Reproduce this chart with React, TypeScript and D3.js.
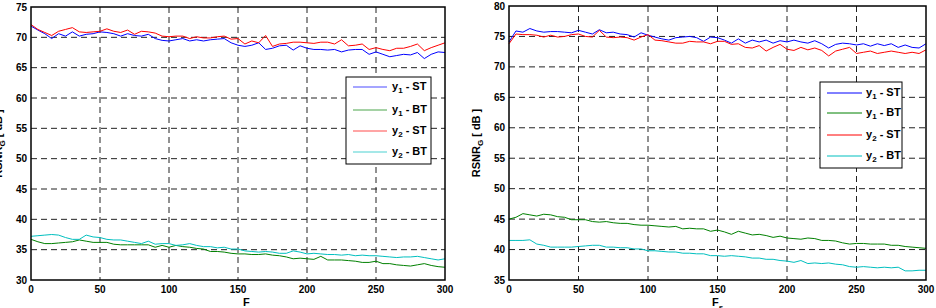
import * as d3 from "d3";
import React from "react";

// frame index (x axis), shared by every series
const F = [0, 5, 10, 15, 20, 25, 30, 35, 40, 45, 50, 55, 60, 65, 70, 75, 80, 85, 90, 95,
  100, 105, 110, 115, 120, 125, 130, 135, 140, 145, 150, 155, 160, 165, 170, 175, 180, 185, 190, 195,
  200, 205, 210, 215, 220, 225, 230, 235, 240, 245, 250, 255, 260, 265, 270, 275, 280, 285, 290, 295, 300];

const xTicks = [0, 50, 100, 150, 200, 250, 300];
const leftYTicks = [30, 35, 40, 45, 50, 55, 60, 65, 70, 75];
const rightYTicks = [35, 40, 45, 50, 55, 60, 65, 70, 75, 80];

const seriesNames = ["y1 - ST", "y1 - BT", "y2 - ST", "y2 - BT"];
const seriesColors = ["#0000ff", "#008000", "#ff0000", "#00bfbf"];

// left panel
const leftY1ST = [71.85, 71.2, 70.6, 69.8, 70.6, 70.2, 70.9, 70.2, 70.5, 70.6, 70.9, 70.8, 70.6, 70.2, 70.6, 70.3, 70.2, 70.5, 69.8, 69.5,
  69.4, 69.6, 69.8, 69.4, 69.6, 69.4, 69.6, 69.7, 69.8, 69.1, 68.7, 68.5, 68.7, 69.1, 68.0, 68.2, 68.6, 68.7, 67.9, 68.6,
  68.2, 68.0, 68.0, 67.9, 68.0, 67.6, 67.9, 68.0, 68.0, 67.2, 67.6, 67.2, 66.8, 67.0, 67.2, 67.1, 67.5, 66.5, 67.2, 67.6, 67.5];
const leftY1BT = [36.7, 36.3, 36.0, 36.0, 36.1, 36.2, 36.3, 36.6, 36.4, 36.2, 36.2, 36.2, 35.9, 35.8, 35.8, 35.8, 35.8, 35.8, 35.4, 35.7,
  35.4, 35.7, 35.5, 35.4, 35.2, 35.1, 34.7, 34.7, 34.6, 34.4, 34.3, 34.3, 34.2, 34.2, 34.3, 34.1, 34.0, 33.8, 33.5, 33.6,
  33.5, 33.4, 33.9, 33.3, 33.3, 33.3, 33.2, 33.1, 32.9, 32.9, 33.1, 32.7, 32.7, 32.5, 32.4, 32.3, 32.5, 32.7, 32.4, 32.2, 32.1];
const leftY2ST = [72.1, 71.3, 70.8, 70.3, 71.0, 71.3, 71.6, 70.9, 70.8, 70.9, 71.0, 71.4, 71.0, 70.8, 71.2, 70.5, 71.0, 70.9, 70.7, 70.2,
  70.1, 70.2, 70.2, 69.8, 70.1, 69.9, 69.9, 70.1, 70.2, 69.7, 69.8, 68.9, 69.4, 69.1, 70.3, 68.5, 68.9, 69.0, 69.2, 69.2,
  69.1, 69.0, 69.2, 69.2, 68.9, 69.6, 68.6, 68.7, 68.9, 68.0, 68.3, 68.0, 67.8, 68.2, 68.2, 68.5, 68.9, 67.8, 68.3, 68.7, 69.1];
const leftY2BT = [37.2, 37.3, 37.4, 37.5, 37.4, 37.0, 36.7, 36.7, 37.4, 37.1, 37.0, 36.7, 36.6, 36.6, 36.4, 36.2, 36.0, 36.4, 35.9, 36.0,
  36.0, 35.7, 35.8, 36.0, 35.7, 35.5, 35.5, 35.3, 35.4, 35.1, 35.1, 34.8, 34.7, 34.6, 34.7, 34.6, 34.4, 34.4, 34.8, 34.6,
  34.3, 34.4, 34.3, 34.2, 34.2, 34.1, 34.2, 34.0, 34.1, 34.0, 34.0, 33.9, 33.8, 33.7, 33.8, 33.8, 33.9, 33.7, 33.5, 33.3, 33.5];

// right panel
const rightY1ST = [74.1, 75.9, 75.7, 76.3, 75.9, 75.7, 75.8, 75.8, 75.7, 75.6, 76.0, 75.7, 75.4, 76.1, 75.6, 75.7, 75.4, 75.3, 74.9, 75.6,
  75.2, 74.9, 74.6, 74.4, 74.8, 74.9, 75.0, 74.8, 74.2, 74.9, 74.8, 74.4, 73.9, 74.6, 73.9, 74.4, 74.1, 74.4, 73.9, 74.3,
  74.1, 74.4, 74.1, 73.9, 74.3, 73.8, 73.1, 73.7, 73.9, 73.8, 73.6, 73.8, 73.4, 73.8, 73.5, 73.8, 73.2, 73.6, 73.2, 73.1, 73.8];
const rightY1BT = [45.0, 45.3, 45.9, 45.7, 45.5, 45.8, 45.7, 45.4, 45.3, 44.9, 44.9, 44.9, 44.6, 44.5, 44.6, 44.4, 44.3, 44.3, 44.1, 44.0,
  44.0, 43.9, 43.8, 43.7, 43.8, 43.4, 43.5, 43.4, 43.4, 43.0, 43.2, 42.9, 42.5, 43.0, 42.7, 42.4, 42.5, 42.3, 42.0, 42.2,
  41.9, 41.8, 41.7, 41.9, 41.8, 41.5, 41.5, 41.4, 41.1, 40.9, 41.0, 41.0, 40.9, 40.9, 40.9, 40.7, 40.7, 40.5, 40.4, 40.3, 40.2];
const rightY2ST = [73.8, 75.4, 75.3, 75.3, 75.2, 74.9, 75.2, 74.9, 75.0, 75.3, 75.4, 75.0, 74.9, 76.0, 74.9, 74.8, 74.9, 74.8, 74.4, 74.9,
  75.3, 74.4, 74.3, 74.1, 73.9, 73.9, 74.2, 74.1, 74.1, 73.8, 74.2, 74.2, 73.7, 73.8, 73.2, 73.1, 73.5, 72.6, 73.2, 73.7,
  72.9, 72.7, 73.2, 72.8, 73.1, 72.7, 71.8, 72.6, 72.9, 73.2, 72.2, 72.4, 72.6, 72.2, 72.4, 72.6, 72.4, 72.2, 72.4, 72.2, 72.8];
const rightY2BT = [41.5, 41.5, 41.5, 41.6, 40.9, 40.7, 40.4, 40.4, 40.4, 40.4, 40.5, 40.6, 40.7, 40.7, 40.4, 40.4, 40.3, 40.3, 40.1, 40.1,
  39.8, 39.8, 39.7, 39.6, 39.6, 39.4, 39.4, 39.3, 39.3, 39.0, 39.0, 38.9, 39.0, 38.9, 38.8, 38.6, 38.6, 38.4, 38.4, 38.2,
  38.1, 37.9, 38.2, 37.7, 37.8, 37.7, 37.8, 37.6, 37.5, 37.2, 37.1, 37.2, 37.1, 37.0, 37.1, 37.0, 37.1, 36.5, 36.5, 36.6, 36.6];

const FONT = "'Liberation Sans', Arial, Helvetica, sans-serif";

function Panel({ box, yDomain, yTicks, series, legend, xLabel }) {
  const x = d3.scaleLinear().domain([0, 300]).range([box.left, box.right]);
  const y = d3.scaleLinear().domain(yDomain).range([box.bottom, box.top]);
  const line = d3.line().x((d: any) => x(d[0])).y((d: any) => y(d[1]));

  const labelCy = (box.top + box.bottom) / 2;
  const labelX = box.left - 29;

  return (
    <g fontFamily={FONT} fontWeight="bold">
      <rect x={box.left} y={box.top} width={box.right - box.left} height={box.bottom - box.top} fill="#fff" />
      {/* grid */}
      {xTicks.slice(1, -1).map(t => (
        <line key={"gx" + t} x1={x(t)} x2={x(t)} y1={box.top} y2={box.bottom}
          stroke="#222" strokeWidth={1} strokeDasharray="6,4" />
      ))}
      {yTicks.slice(1, -1).map(t => (
        <line key={"gy" + t} x1={box.left} x2={box.right} y1={y(t)} y2={y(t)}
          stroke="#222" strokeWidth={1} strokeDasharray="6,4" />
      ))}
      {/* series */}
      {series.map((s, i) => (
        <path key={"s" + i} d={line(F.map((f, j) => [f, s[j]]) as any) || ""}
          fill="none" stroke={seriesColors[i]} strokeWidth={1} />
      ))}
      {/* frame */}
      <rect x={box.left} y={box.top} width={box.right - box.left} height={box.bottom - box.top}
        fill="none" stroke="#000" strokeWidth={1.5} />
      {/* tick labels */}
      {xTicks.map(t => (
        <text key={"tx" + t} x={x(t)} y={box.bottom + 13} textAnchor="middle" fontSize={10}>{t}</text>
      ))}
      {yTicks.map(t => (
        <text key={"ty" + t} x={box.left - 4} y={y(t)} dy="0.35em" textAnchor="end" fontSize={10}>{t}</text>
      ))}
      {/* axis labels */}
      <text x={xLabel.x} y={306} fontSize={11}>
        F{xLabel.sub ? <tspan fontSize={8} dy={4}>{xLabel.sub}</tspan> : null}
      </text>
      <text transform={`translate(${labelX},${labelCy}) rotate(-90)`} textAnchor="middle" fontSize={11}>
        RSNR<tspan fontSize={8} dy={3}>G</tspan><tspan dy={-3}> [ dB ]</tspan>
      </text>
      {/* legend */}
      <rect x={legend.x} y={legend.y} width={legend.w} height={legend.h} fill="#fff" stroke="#000" strokeWidth={1} />
      {seriesNames.map((n, i) => {
        const ry = legend.rows[i];
        const [v, rest] = n.split(" - ");
        return (
          <g key={"l" + i}>
            <line x1={legend.lx1} x2={legend.lx2} y1={ry} y2={ry} stroke={seriesColors[i]}
              strokeWidth={1} opacity={legend.fade} />
            <text x={legend.tx} y={ry + 3} fontSize={11}>
              {v[0]}<tspan fontSize={8} dy={3}>{v[1]}</tspan><tspan dy={-3}>{" - " + rest}</tspan>
            </text>
          </g>
        );
      })}
    </g>
  );
}

export default function App() {
  return (
    <svg width={936} height={308} style={{ position: "absolute", left: 0, top: 0, background: "#fff" }}>
      <rect width={936} height={308} fill="#fff" />
      <Panel
        box={{ left: 31, right: 445, top: 7, bottom: 280 }}
        yDomain={[30, 75]}
        yTicks={leftYTicks}
        series={[leftY1ST, leftY1BT, leftY2ST, leftY2BT]}
        legend={{ x: 346, y: 77, w: 85, h: 87, lx1: 353, lx2: 387, tx: 392, rows: [87, 110, 131, 152], fade: 0.7 }}
        xLabel={{ x: 243, sub: "" }}
      />
      <Panel
        box={{ left: 509, right: 926, top: 6, bottom: 280 }}
        yDomain={[35, 80]}
        yTicks={rightYTicks}
        series={[rightY1ST, rightY1BT, rightY2ST, rightY2BT]}
        legend={{ x: 820, y: 82, w: 82, h: 86, lx1: 827, lx2: 862, tx: 866, rows: [93, 113, 135, 156], fade: 1 }}
        xLabel={{ x: 712, sub: "s" }}
      />
    </svg>
  );
}
